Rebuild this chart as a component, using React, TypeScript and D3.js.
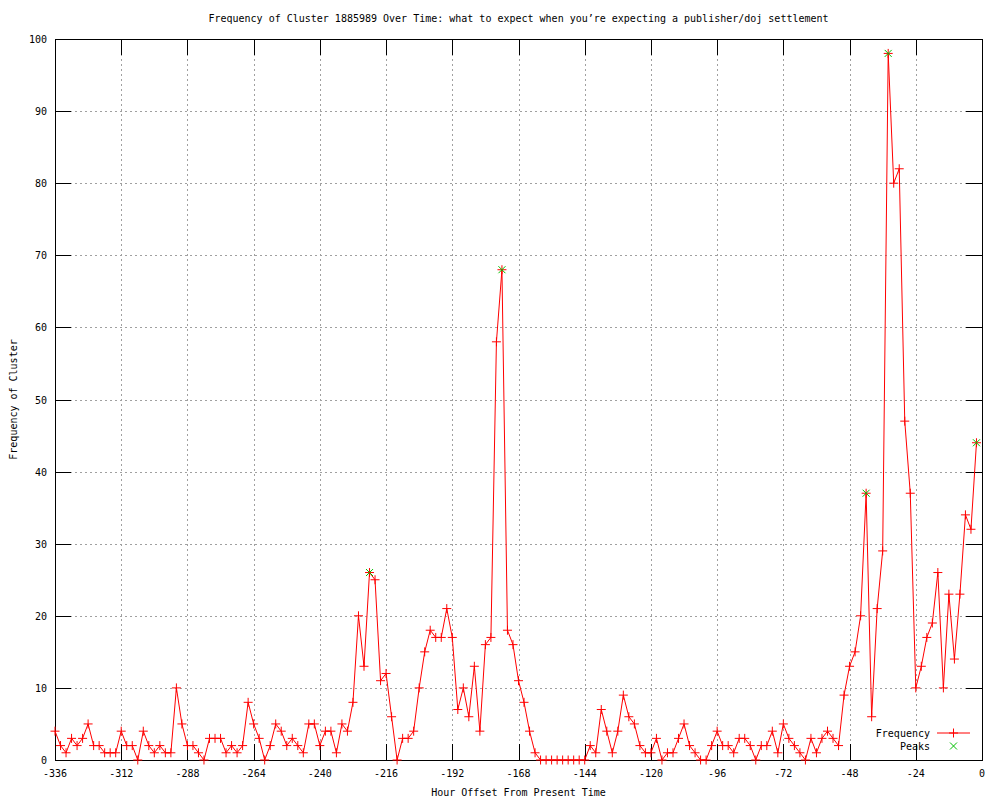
import React from "react";
import * as d3 from "d3";

// Hours from -336 to -2, every 2 hours
const startHour = -336;
const stepHours = 2;
const frequency: number[] = [
  4, 2, 1, 3, 2, 3, 5, 2, 2, 1, 1, 1,
  4, 2, 2, 0, 4, 2, 1, 2, 1, 1, 10, 5,
  2, 2, 1, 0, 3, 3, 3, 1, 2, 1, 2, 8,
  5, 3, 0, 2, 5, 4, 2, 3, 2, 1, 5, 5,
  2, 4, 4, 1, 5, 4, 8, 20, 13, 26, 25, 11,
  12, 6, 0, 3, 3, 4, 10, 15, 18, 17, 17, 21,
  17, 7, 10, 6, 13, 4, 16, 17, 58, 68, 18, 16,
  11, 8, 4, 1, 0, 0, 0, 0, 0, 0, 0, 0,
  0, 2, 1, 7, 4, 1, 4, 9, 6, 5, 2, 1,
  1, 3, 0, 1, 1, 3, 5, 2, 1, 0, 0, 2,
  4, 2, 2, 1, 3, 3, 2, 0, 2, 2, 4, 1,
  5, 3, 2, 1, 0, 3, 1, 3, 4, 3, 2, 9,
  13, 15, 20, 37, 6, 21, 29, 98, 80, 82, 47, 37,
  10, 13, 17, 19, 26, 10, 23, 14, 23, 34, 32, 44,
];
const hours: number[] = frequency.map((_, i) => startHour + i * stepHours);

const peakHours: number[] = [-222, -174, -42, -34, -2];
const peakValues: number[] = [26, 68, 37, 98, 44];

const xTicks: number[] = [-336, -312, -288, -264, -240, -216, -192, -168, -144, -120, -96, -72, -48, -24, 0];
const yTicks: number[] = [0, 10, 20, 30, 40, 50, 60, 70, 80, 90, 100];

const titleText =
  "Frequency of Cluster 1885989 Over Time: what to expect when you\u2019re expecting a publisher/doj settlement";
const xLabel = "Hour Offset From Present Time";
const yLabel = "Frequency of Cluster";
const legendLabels: string[] = ["Frequency", "Peaks"];

const W = 1000;
const H = 800;
const left = 55;
const right = 982;
const top = 39;
const bottom = 760;
const FONT = "'DejaVu Sans Mono', monospace";
const TICK = 16;

export default function App() {
  const x = d3.scaleLinear().domain([-336, 0]).range([left, right]);
  const y = d3.scaleLinear().domain([0, 100]).range([bottom, top]);

  const line = d3
    .line<number>()
    .x((_, i) => x(hours[i]))
    .y((d) => y(d));

  const ms = 4.5;
  const plus = (cx: number, cy: number, key: string, color = "#ff0000") => (
    <path
      key={key}
      d={`M${cx - ms},${cy}H${cx + ms}M${cx},${cy - ms}V${cy + ms}`}
      stroke={color}
      strokeWidth={1}
      fill="none"
    />
  );
  const cross = (cx: number, cy: number, key: string) => (
    <path
      key={key}
      d={`M${cx - 3.5},${cy - 3.5}L${cx + 3.5},${cy + 3.5}M${cx - 3.5},${cy + 3.5}L${cx + 3.5},${cy - 3.5}`}
      stroke="#00c000"
      strokeWidth={1}
      fill="none"
    />
  );

  return (
    <svg
      width={W}
      height={H}
      style={{ position: "absolute", left: 0, top: 0, background: "#fff" }}
      fontFamily={FONT}
      fontSize={10}
    >
      <rect x={0} y={0} width={W} height={H} fill="#fff" />
      {/* grid */}
      <g stroke="#a0a0a0" strokeWidth={1} strokeDasharray="2,3" shapeRendering="crispEdges">
        {xTicks.slice(1, -1).map((t) => (
          <line key={"gx" + t} x1={Math.round(x(t)) + 0.5} x2={Math.round(x(t)) + 0.5} y1={top} y2={bottom} />
        ))}
        {yTicks.slice(1, -1).map((t) => (
          <line key={"gy" + t} x1={left} x2={right} y1={Math.round(y(t)) + 0.5} y2={Math.round(y(t)) + 0.5} />
        ))}
      </g>
      {/* legend area clears grid */}
      <rect x={872} y={726} width={106} height={26} fill="#fff" />
      {/* ticks */}
      <g stroke="#000" strokeWidth={1} shapeRendering="crispEdges">
        {xTicks.map((t) => (
          <g key={"tx" + t}>
            <line x1={Math.round(x(t)) + 0.5} x2={Math.round(x(t)) + 0.5} y1={bottom} y2={bottom - TICK} />
            <line x1={Math.round(x(t)) + 0.5} x2={Math.round(x(t)) + 0.5} y1={top} y2={top + TICK} />
          </g>
        ))}
        {yTicks.map((t) => (
          <g key={"ty" + t}>
            <line x1={left} x2={left + TICK} y1={Math.round(y(t)) + 0.5} y2={Math.round(y(t)) + 0.5} />
            <line x1={right} x2={right - TICK} y1={Math.round(y(t)) + 0.5} y2={Math.round(y(t)) + 0.5} />
          </g>
        ))}
        <rect x={left + 0.5} y={top + 0.5} width={right - left} height={bottom - top} fill="none" />
      </g>
      {/* data */}
      <path d={line(frequency) || ""} stroke="#ff0000" strokeWidth={1} fill="none" />
      {frequency.map((v, i) => plus(x(hours[i]), y(v), "p" + i))}
      {peakValues.map((v, i) => cross(x(peakHours[i]), y(v), "k" + i))}
      {/* tick labels */}
      <g fill="#000">
        {xTicks.map((t) => (
          <text key={"lx" + t} x={x(t)} y={777} textAnchor="middle">
            {t}
          </text>
        ))}
        {yTicks.map((t) => (
          <text key={"ly" + t} x={47} y={y(t) + 4} textAnchor="end">
            {t}
          </text>
        ))}
        <text x={(left + right) / 2} y={22} textAnchor="middle">
          {titleText}
        </text>
        <text x={(left + right) / 2} y={796} textAnchor="middle">
          {xLabel}
        </text>
        <text transform={`translate(17,${(top + bottom) / 2}) rotate(-90)`} textAnchor="middle">
          {yLabel}
        </text>
        {/* legend */}
        <text x={930} y={737} textAnchor="end">
          {legendLabels[0]}
        </text>
        <text x={930} y={750} textAnchor="end">
          {legendLabels[1]}
        </text>
      </g>
      <line x1={937} x2={970} y1={733} y2={733} stroke="#ff0000" strokeWidth={1} />
      {plus(953.5, 733, "lp")}
      {cross(953.5, 746, "lk")}
    </svg>
  );
}
